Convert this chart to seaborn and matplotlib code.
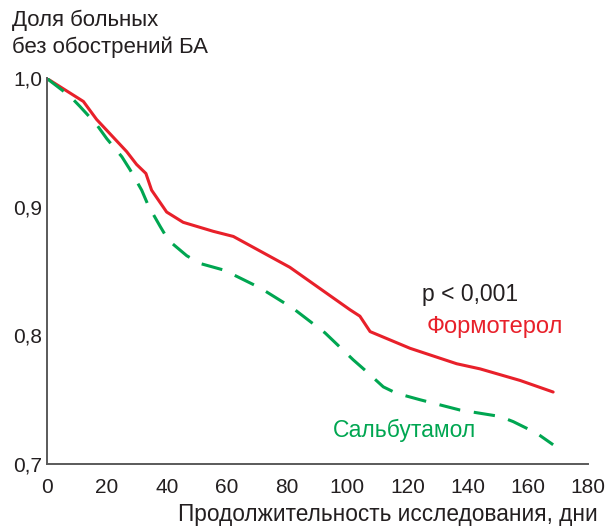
import matplotlib
matplotlib.use("Agg")
import matplotlib.pyplot as plt
import seaborn as sns
import pandas as pd
from matplotlib.ticker import FuncFormatter

# Data
form_days = [0, 12.2, 16.6, 26.6, 29.9, 33.0, 34.9, 39.9, 45.4, 55.4, 62.1, 80.9,
             100.9, 104.2, 107.6, 120.9, 136.4, 144.2, 157.5, 168.5]
form_vals = [1.0, 0.982, 0.968, 0.943, 0.933, 0.926, 0.913, 0.896, 0.888, 0.881, 0.877, 0.853,
             0.820, 0.815, 0.803, 0.790, 0.778, 0.774, 0.765, 0.756]
salb_days = [0, 7.8, 11.1, 16.6, 20.0, 25.0, 27.7, 31.6, 33.8, 37.7, 40.5, 46.6, 51.0, 58.7,
             63.2, 71.0, 82.0, 92.6, 102.0, 105.9, 112.0, 116.4, 124.2, 137.5, 150.8, 155.2,
             163.0, 168.5]
salb_vals = [1.0, 0.986, 0.978, 0.964, 0.953, 0.939, 0.929, 0.913, 0.901, 0.885, 0.874, 0.862,
             0.856, 0.851, 0.846, 0.837, 0.821, 0.802, 0.781, 0.773, 0.760, 0.755, 0.750, 0.742,
             0.737, 0.733, 0.724, 0.715]
x_ticks = [0, 20, 40, 60, 80, 100, 120, 140, 160, 180]
y_ticks = [0.7, 0.8, 0.9, 1.0]
series_names = ["Формотерол", "Сальбутамол"]

red = "#E8202A"
green = "#00A651"
textc = "#231F20"
axc = "#5A5A5A"

df = pd.concat([
    pd.DataFrame({"day": form_days, "val": form_vals, "drug": series_names[0]}),
    pd.DataFrame({"day": salb_days, "val": salb_vals, "drug": series_names[1]}),
])

sns.set_theme(style="white")
plt.rcParams["font.family"] = ["Liberation Sans", "DejaVu Sans"]

fig = plt.figure(figsize=(6.06, 5.27), dpi=100)
ax = fig.add_axes([0.0771, 0.1195, 0.8927, 0.7319])

sns.lineplot(data=df, x="day", y="val", hue="drug", style="drug",
             palette={series_names[0]: red, series_names[1]: green},
             dashes={series_names[0]: "", series_names[1]: (7, 4.5)},
             linewidth=2.2, legend=False, ax=ax, estimator=None, sort=False)

ax.set_xlim(0, 180)
ax.set_ylim(0.7, 1.0)
ax.set_xticks(x_ticks)
ax.set_yticks(y_ticks)
ax.xaxis.set_major_formatter(FuncFormatter(lambda v, p: f"{int(round(v))}"))
ax.yaxis.set_major_formatter(FuncFormatter(lambda v, p: f"{v:.1f}".replace(".", ",")))
ax.tick_params(axis="both", direction="in", length=7, width=1.2, color=axc,
               labelsize=15, labelcolor=textc)
ax.tick_params(axis="x", pad=10)
ax.tick_params(axis="y", pad=3)
for s in ["top", "right"]:
    ax.spines[s].set_visible(False)
for s in ["left", "bottom"]:
    ax.spines[s].set_color(axc)
    ax.spines[s].set_linewidth(1.4)
ax.set_xlabel("")
ax.set_ylabel("")

fig.text(598 / 606, 1.5 / 527, "Продолжительность исследования, дни",
         ha="right", va="bottom", fontsize=16.3, color=textc)
fig.text(12 / 606, 1 - 20 / 527, "Доля больных", ha="left", va="center",
         fontsize=16, color=textc)
fig.text(12 / 606, 1 - 47 / 527, "без обострений БА", ha="left", va="center",
         fontsize=16, color=textc)

ax.text(140.8, 0.8315, "p < 0,001", ha="center", va="center", fontsize=16.5, color=textc)
ax.text(149.1, 0.8066, series_names[0], ha="center", va="center", fontsize=17, color=red)
ax.text(119.2, 0.7264, series_names[1], ha="center", va="center", fontsize=16.5, color=green)

fig.savefig("out.png", dpi=100)
